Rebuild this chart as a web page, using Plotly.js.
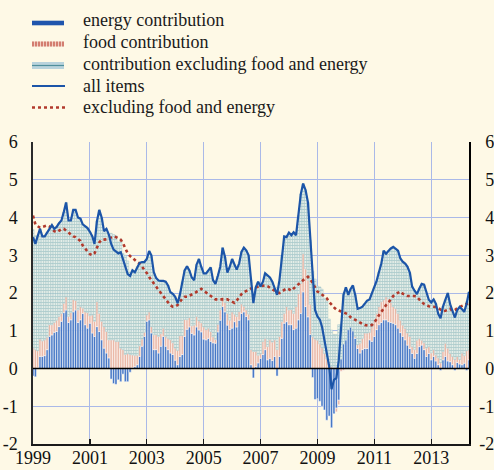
<!DOCTYPE html>
<html><head><meta charset="utf-8">
<script src="https://cdn.plot.ly/plotly-3.0.1.min.js"></script>
<style>html,body{margin:0;padding:0;background:#fef9e6;}#chart{width:494px;height:470px;}</style>
</head><body><div id="chart"></div>
<script>
// Monthly data, January 1999 to May 2014 (percent / percentage points)
const startYear = 1999, startMonth = 1;

const allItems = [
3.48,3.3,3.5,3.7,3.5,3.5,3.6,3.7,3.8,3.7,3.75,3.85,
3.92,4.15,4.4,3.92,3.92,4.2,4.2,4.0,3.97,3.82,3.76,3.72,
3.62,3.5,3.3,3.9,4.2,4.0,3.64,3.7,3.55,3.3,3.15,3.1,
3.05,3.08,2.9,2.65,2.5,2.45,2.6,2.55,2.7,2.8,2.82,2.82,
2.9,3.11,3.0,2.55,2.4,2.33,2.32,2.32,2.3,2.2,2.02,1.98,
1.9,1.73,1.95,2.3,2.6,2.71,2.6,2.41,2.34,2.75,2.9,2.69,
2.52,2.52,2.6,2.68,2.34,2.24,2.45,2.69,3.2,2.96,2.54,2.69,
2.9,2.74,2.62,2.78,3.09,3.2,3.13,3.0,2.34,1.73,2.15,2.3,
2.17,2.3,2.52,2.45,2.41,2.3,2.12,1.95,2.34,3.0,3.5,3.48,
3.6,3.53,3.61,3.53,4.05,4.62,4.9,4.73,4.4,3.4,2.34,1.55,
1.38,1.29,1.1,0.76,0.42,0.05,-0.55,-0.3,-0.25,0.2,1.1,1.95,
2.15,1.95,2.1,2.2,1.95,1.58,1.6,1.64,1.72,1.8,1.83,1.98,
2.15,2.33,2.55,2.78,3.12,3.04,3.11,3.18,3.22,3.18,3.12,2.92,
2.83,2.78,2.7,2.54,2.17,2.06,1.97,2.12,2.24,2.22,1.98,1.82,
1.75,1.83,1.72,1.45,1.33,1.64,1.82,2.0,1.7,1.5,1.35,1.55,
1.63,1.57,1.5,1.72,2.03];

const exFoodEnergy = [
4.05,3.82,3.77,3.73,3.75,3.77,3.79,3.76,3.7,3.64,3.61,3.66,
3.69,3.7,3.66,3.6,3.55,3.5,3.48,3.44,3.38,3.26,3.17,3.1,
3.03,3.0,3.05,3.2,3.34,3.41,3.41,3.42,3.44,3.48,3.5,3.48,
3.44,3.41,3.32,3.2,3.05,2.98,2.92,2.86,2.82,2.78,2.7,2.6,
2.53,2.42,2.33,2.24,2.17,2.08,2.0,1.92,1.82,1.74,1.67,1.64,
1.64,1.68,1.78,1.85,1.9,1.9,1.93,1.95,1.99,2.03,2.08,2.11,
2.06,2.01,1.97,1.92,1.87,1.83,1.83,1.83,1.83,1.83,1.83,1.8,
1.76,1.74,1.8,1.9,1.97,2.02,2.06,2.09,2.12,2.14,2.16,2.17,
2.18,2.19,2.2,2.18,2.14,2.1,2.08,2.02,2.0,2.04,2.1,2.12,
2.1,2.06,2.12,2.18,2.24,2.29,2.34,2.38,2.43,2.37,2.25,2.14,
2.04,2.0,1.96,1.91,1.86,1.76,1.68,1.62,1.56,1.54,1.53,1.49,
1.46,1.43,1.36,1.32,1.28,1.24,1.21,1.18,1.15,1.13,1.13,1.15,
1.22,1.31,1.41,1.51,1.6,1.68,1.74,1.83,1.92,1.97,2.0,2.04,
1.98,1.94,1.92,1.92,1.92,1.92,1.9,1.82,1.76,1.71,1.67,1.65,
1.64,1.64,1.63,1.6,1.55,1.52,1.53,1.56,1.58,1.53,1.55,1.6,
1.63,1.65,1.67,1.72,1.74];

const energyContribution = [
-0.2,-0.22,0.02,0.32,0.32,0.34,0.5,0.85,0.89,0.96,0.98,1.11,
1.25,1.48,1.55,1.22,1.29,1.5,1.55,1.22,1.29,1.46,1.16,1.07,
1.2,0.94,0.85,1.11,0.98,0.76,0.54,0.41,0.28,-0.28,-0.4,-0.42,
-0.3,-0.35,-0.15,-0.35,-0.35,-0.1,0.02,0.05,0.1,0.32,0.59,0.85,
1.25,1.29,0.94,0.5,0.5,0.41,0.59,0.85,0.59,0.5,0.41,0.37,
0.22,0.1,0.32,0.37,0.85,1.04,1.1,0.93,0.89,1.1,1.02,0.97,
0.78,0.76,0.8,0.72,0.68,0.67,0.97,1.28,1.64,1.5,1.15,1.03,
1.07,1.24,1.1,1.28,1.46,1.5,1.38,1.29,0.1,-0.25,0.05,0.15,
0.27,0.37,0.5,0.23,0.27,0.21,0.32,-0.2,0.32,0.8,1.2,1.24,
1.16,1.16,1.03,1.07,1.29,1.46,2.03,1.64,1.37,0.9,-0.24,-0.82,
-0.8,-0.87,-1.0,-1.1,-1.37,-1.26,-1.57,-1.2,-1.05,-0.84,0.25,0.65,
0.76,1.03,1.1,1.0,0.8,0.53,0.41,0.5,0.53,0.53,0.76,0.72,
0.85,1.03,1.16,1.22,1.29,1.29,1.24,1.22,1.2,1.16,1.07,0.95,
0.85,0.76,0.62,0.53,0.4,0.27,0.4,0.58,0.62,0.5,0.32,0.4,
0.23,0.32,0.2,0.1,-0.05,0.23,0.32,0.2,0.18,0.1,-0.05,0.16,
0.12,0.1,0.14,-0.05,0.23];

const foodContribution = [
0.55,0.5,0.45,0.46,0.41,0.42,0.33,0.31,0.27,0.26,0.3,0.27,
0.21,0.25,0.35,0.16,0.19,0.33,0.25,0.33,0.35,0.14,0.34,0.41,
0.2,0.48,0.4,0.66,0.48,0.49,0.57,0.57,0.48,0.76,0.76,0.72,
0.72,0.54,0.5,0.37,0.4,0.37,0.34,0.3,0.25,0.28,0.19,0.11,
0.17,0.21,0.17,0.39,0.4,0.44,0.33,0.22,0.26,0.3,0.35,0.31,
0.32,0.38,0.55,0.5,0.45,0.25,0.25,0.2,0.26,0.28,0.24,0.24,
0.32,0.27,0.27,0.26,0.16,0.1,0.2,0.27,0.26,0.25,0.31,0.25,
0.43,0.2,0.28,0.23,0.25,0.15,0.17,0.15,0.4,0.45,0.4,0.2,
0.12,0.35,0.3,0.35,0.49,0.49,0.44,0.5,0.53,0.44,0.26,0.4,
0.39,0.4,0.43,0.57,0.69,0.79,1.01,1.0,0.97,0.8,0.84,0.78,
0.75,0.65,0.55,0.4,0.25,0.1,0.05,0.0,-0.1,-0.12,-0.08,-0.05,
0.0,0.0,0.0,0.0,0.05,0.1,0.26,0.3,0.41,0.41,0.2,0.38,
0.4,0.43,0.48,0.55,0.53,0.61,0.6,0.53,0.44,0.43,0.39,0.33,
0.3,0.3,0.32,0.32,0.18,0.23,0.35,0.22,0.13,0.18,0.22,0.18,
0.18,0.18,0.16,0.18,0.15,0.22,0.35,0.34,0.22,0.22,0.24,0.16,
0.12,0.31,0.2,0.47,0.27];

const legendLabels = ["energy contribution","food contribution",
  "contribution excluding food and energy","all items","excluding food and energy"];
const yTicks = [-2,-1,0,1,2,3,4,5,6];
const yTickText = ["-2","-1","0","1","2","3","4","5","6"];

const dates = allItems.map((_, i) => {
  const t = (startMonth - 1) + i;
  const y = startYear + Math.floor(t / 12), m = (t % 12) + 1;
  return y + '-' + String(m).padStart(2, '0') + '-01';
});
// contribution excluding food and energy = remainder of the headline rate
const coreContribution = allItems.map((v, i) =>
  +(v - energyContribution[i] - foodContribution[i]).toFixed(2));

const BLUE = '#1c55a8', RED = '#b23a2c';
const serif = 'Liberation Serif';

const traces = [
  {type:'bar', x:dates, y:energyContribution, name:legendLabels[0],
   marker:{color:'#4677c6', line:{color:'#ffffff', width:0.5}}, showlegend:false},
  {type:'bar', x:dates, y:foodContribution, name:legendLabels[1],
   marker:{color:'#eab8a7', line:{color:'#ffffff', width:0.5}}, showlegend:false},
  {type:'bar', x:dates, y:coreContribution, name:legendLabels[2],
   marker:{color:'#d9e8e4', line:{color:'#9cc0c4', width:0.45},
     pattern:{shape:'-', fgcolor:'#b0cfcf', bgcolor:'#e6efe9', size:3, solidity:0.3}},
   showlegend:false},
  {type:'scatter', mode:'lines', x:dates, y:exFoodEnergy, name:legendLabels[4], yaxis:'y2',
   line:{color:RED, width:2.6, dash:'dot'}, showlegend:false},
  {type:'scatter', mode:'lines', x:dates, y:allItems, name:legendLabels[3], yaxis:'y2',
   line:{color:BLUE, width:2.2}, showlegend:false}
];

// custom legend drawn in pixel space, converted to paper coordinates
const L = 33, R = 469, T = 142, B = 444;
const px = v => (v - L) / (R - L);
const py = v => (B - v) / (B - T);
const shapes = [];
const ann = [];
const rowsY = [20, 42, 64, 85.5, 106.5];
const symY = [23, 44, 65.5, 86, 107.5];
shapes.push({type:'rect', xref:'paper', yref:'paper', x0:px(32), x1:px(64), y0:py(symY[0]+2.3), y1:py(symY[0]-2.3),
  fillcolor:'#1f55ad', line:{width:0}});
shapes.push({type:'rect', xref:'paper', yref:'paper', x0:px(32), x1:px(64), y0:py(symY[1]+2.5), y1:py(symY[1]-2.5),
  fillcolor:'#f1cfc2', line:{width:0}});
for (let k = 0; k < 11; k++) {
  const xx = 33 + k * 3;
  shapes.push({type:'line', xref:'paper', yref:'paper', x0:px(xx), x1:px(xx), y0:py(symY[1]+2.5), y1:py(symY[1]-2.5),
    line:{color:'#c0483a', width:1.2}});
}
shapes.push({type:'rect', xref:'paper', yref:'paper', x0:px(32), x1:px(64), y0:py(symY[2]+3.5), y1:py(symY[2]-3.5),
  fillcolor:'#b9d3dc', line:{width:0}});
shapes.push({type:'line', xref:'paper', yref:'paper', x0:px(32), x1:px(64), y0:py(symY[2]), y1:py(symY[2]),
  line:{color:'#4f8f9c', width:1.2}});
shapes.push({type:'line', xref:'paper', yref:'paper', x0:px(32), x1:px(65), y0:py(symY[3]), y1:py(symY[3]),
  line:{color:BLUE, width:2}});
shapes.push({type:'line', xref:'paper', yref:'paper', x0:px(32), x1:px(67), y0:py(symY[4]), y1:py(symY[4]),
  line:{color:RED, width:2.4, dash:'dot'}});
legendLabels.forEach((t, i) => ann.push({xref:'paper', yref:'paper', x:px(81), y:py(rowsY[i]),
  xanchor:'left', yanchor:'middle', text:t, showarrow:false, font:{family:serif, size:18, color:'#1a1a1a'}}));
// zero line above the bars
shapes.push({type:'line', xref:'paper', yref:'y', x0:0, x1:1, y0:0, y1:0, layer:'above',
  line:{color:'#000000', width:1.6}});

const yax = {range:[-2,6], tickvals:yTicks, showgrid:true, gridcolor:'#aab9e8', gridwidth:1,
  zeroline:false, showline:true, linecolor:'#2a2a2a', linewidth:1.6, ticks:'',
  tickfont:{family:serif, size:18, color:'#111'}, fixedrange:true};

const layout = {
  width:494, height:470,
  margin:{l:L, r:494-R, t:T, b:470-B},
  paper_bgcolor:'#fef9e6', plot_bgcolor:'#fef9e6',
  font:{family:serif},
  barmode:'relative', bargap:0,
  showlegend:false,
  xaxis:{type:'date', range:['1999-01-01','2014-05-01'], tick0:'1999-01-01', dtick:'M24', tickformat:'%Y',
    showgrid:true, gridcolor:'#aab9e8', gridwidth:1, showline:true, linecolor:'#1a1a1a', linewidth:1.6,
    ticks:'inside', ticklen:5, tickcolor:'#1a1a1a', tickwidth:1.4, ticklabelstandoff:-3,
    tickfont:{family:serif, size:18, color:'#111'}, zeroline:false},
  yaxis:Object.assign({}, yax, {side:'left', ticktext:yTickText, ticklabelstandoff:10}),
  yaxis2:Object.assign({}, yax, {side:'right', overlaying:'y', showgrid:false, linecolor:'#000',
    ticktext:yTickText.map(s => s.startsWith('-') ? s : '\u2004' + s), ticklabelstandoff:5}),
  shapes:shapes, annotations:ann
};

Plotly.newPlot('chart', traces, layout, {staticPlot:true, displayModeBar:false});
</script></body></html>
